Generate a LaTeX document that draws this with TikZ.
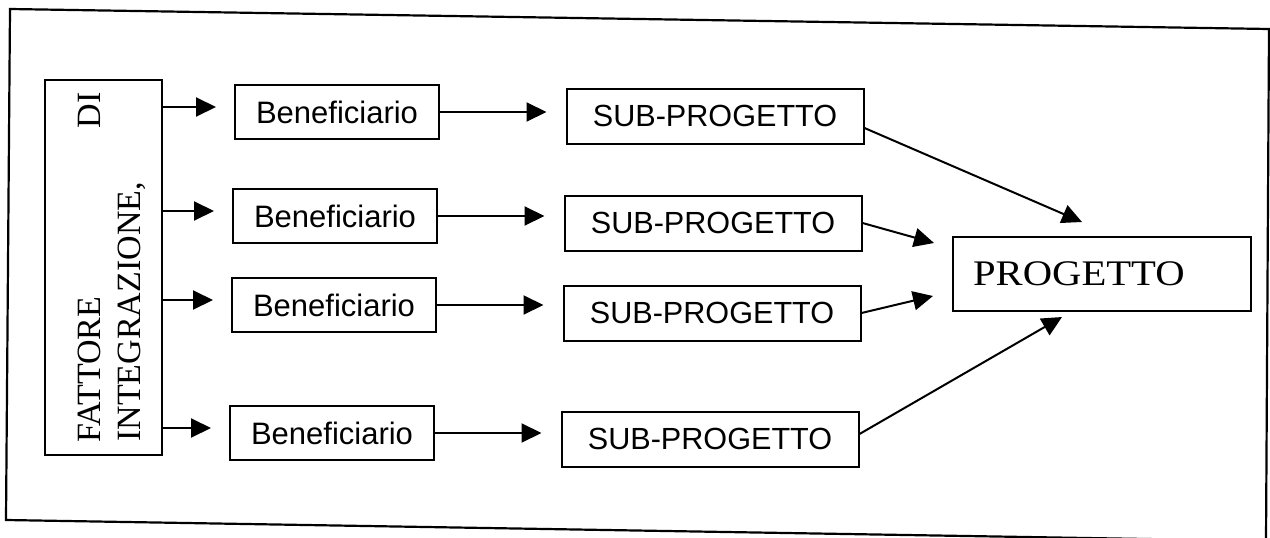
\documentclass[tikz,border=0pt]{standalone}
\usepackage{fontspec}
\usepackage{graphicx}
\setmainfont{Liberation Serif}
\newfontfamily\sansf{Liberation Sans}
\usetikzlibrary{arrows.meta}
\begin{document}
\begin{tikzpicture}[x=1pt,y=-1pt,
  box/.style={draw, line width=2pt, inner sep=0pt},
  benef/.style={box, minimum width=204pt, minimum height=54pt, font=\sansf\fontsize{31}{36}\selectfont},
  subbox/.style={box, minimum width=297pt, minimum height=55pt, font=\sansf\fontsize{30.6}{36}\selectfont},
  arr/.style={line width=2pt, -{Triangle[length=20pt,width=19pt]}},
  vtext/.style={rotate=90, inner sep=0pt, font=\fontsize{34}{40}\selectfont}]
\useasboundingbox (0,0) rectangle (1270,538);
\fill[white] (0,0) rectangle (1270,538);
% outer frame (slightly tilted as in the scan)
\draw[line width=2.2pt, line join=miter] (10,9) -- (1269,29) -- (1266,541) -- (6,520) -- cycle;

% left box
\node[box, minimum width=117pt, minimum height=375pt] (fattore) at (103.5,267.5) {};
\node[vtext, anchor=base west] (f1) at (100,443) {FATTORE};
\node[vtext, anchor=base east] (f2) at (100,92) {DI};
\node[vtext, anchor=base west] (f3) at (140,442) {INTEGRAZIONE,};

% beneficiario boxes
\node[benef] (b1) at (337,112) {Beneficiario};
\node[benef] (b2) at (335,216) {Beneficiario};
\node[benef] (b3) at (334,305) {Beneficiario};
\node[benef] (b4) at (332,433) {Beneficiario};

% sub-progetto boxes
\node[subbox] (s1) at (715,116) {SUB-PROGETTO};
\node[subbox] (s2) at (713,223) {SUB-PROGETTO};
\node[subbox] (s3) at (712,313) {SUB-PROGETTO};
\node[subbox] (s4) at (710,439) {SUB-PROGETTO};

% progetto
\node[box, minimum width=298pt, minimum height=74pt, text width=258pt, align=left,
      font=\fontsize{36}{42}\selectfont] (p) at (1102,274) {\scalebox{1.13}[1]{PROGETTO}};

% arrows from left box
\foreach \b in {b1,b2,b3,b4}{
  \draw[arr, shorten >=18pt] ([yshift=5pt]fattore.east |- \b.west) -- ([yshift=5pt]\b.west);
}
% arrows beneficiario -> sub-progetto
\draw[arr, shorten >=19pt] (b1.east) -- (b1.east -| s1.west);
\draw[arr, shorten >=19pt] (b2.east) -- (b2.east -| s2.west);
\draw[arr, shorten >=19pt] (b3.east) -- (b3.east -| s3.west);
\draw[arr, shorten >=19pt] (b4.east) -- (b4.east -| s4.west);

% arrows sub-progetto -> progetto
\coordinate (t1) at (1082,222);
\coordinate (t2) at (934,243);
\coordinate (t3) at (933,296);
\coordinate (t4) at (1062,317);
\draw[arr] ([yshift=-12pt]s1.east) -- (t1);
\draw[arr] (s2.east) -- (t2);
\draw[arr] (s3.east) -- (t3);
\draw[arr] ([yshift=5pt]s4.east) -- (t4);
\end{tikzpicture}
\end{document}
